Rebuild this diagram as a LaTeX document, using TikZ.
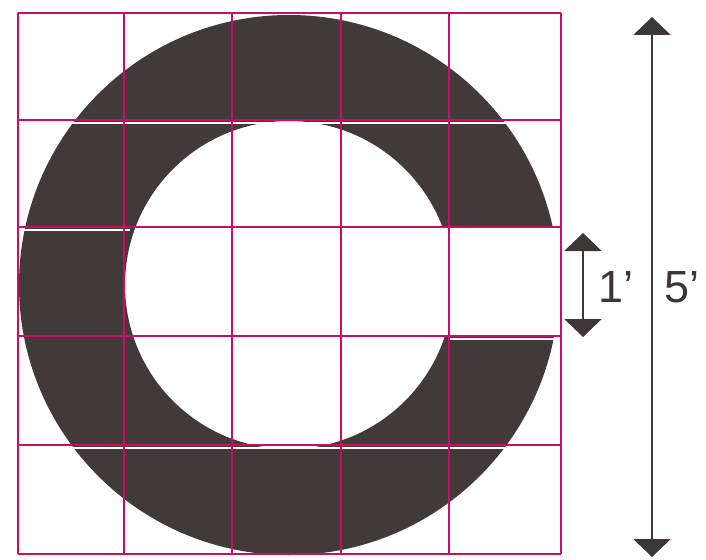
\documentclass[tikz,border=0pt]{standalone}
\usepackage{fontspec}
\setmainfont{Liberation Sans}
\usetikzlibrary{arrows.meta}
\definecolor{ringc}{RGB}{66,58,58}
\definecolor{gridc}{RGB}{208,12,98}
\definecolor{arrc}{RGB}{60,54,54}
\tikzset{
  gridline/.style={draw=gridc, line width=1.9pt},
  sliver/.style={draw=white, line width=2pt},
  dimarrow/.style={draw=arrc, line width=2.4pt, {Triangle[width=37pt,length=18pt]}-{Triangle[width=37pt,length=18pt]}},
  dimlabel/.style={text=arrc, font=\fontsize{45}{45}\selectfont, inner sep=0pt, anchor=west}
}
\begin{document}
\begin{tikzpicture}[x=1pt,y=-1pt]
\useasboundingbox (0,0) rectangle (706,559);
\fill[white] (0,0) rectangle (706,559);
% ring
\coordinate (c) at (289,285);
\fill[ringc, even odd rule] (c) circle[radius=270pt] (c) circle[radius=164pt];
% gap in the ring (row 3, right side)
\fill[white] (341,227) rectangle (566,336);
% slivers from the cut strips
\draw[sliver] (18,123) -- (561,123);
\draw[sliver] (18,230) -- (130,230);
\draw[sliver] (450,339) -- (561,339);
\draw[sliver] (18,448) -- (561,448);
% grid
\foreach \x in {18,124,232,341,449,561} {\draw[gridline] (\x,13) -- (\x,554);}
\foreach \y in {13,120,227,336,445,554} {\draw[gridline] (18,\y) -- (561,\y);}
% dimension arrows
\coordinate (s1) at (583,233);
\coordinate (s2) at (583,337);
\draw[dimarrow] (s1) -- (s2);
\node[dimlabel] (one) at (598,287) {1’};
\coordinate (b1) at (652,17);
\coordinate (b2) at (652,557);
\draw[dimarrow] (b1) -- (b2);
\node[dimlabel] (five) at (664,287) {5’};
\end{tikzpicture}
\end{document}
